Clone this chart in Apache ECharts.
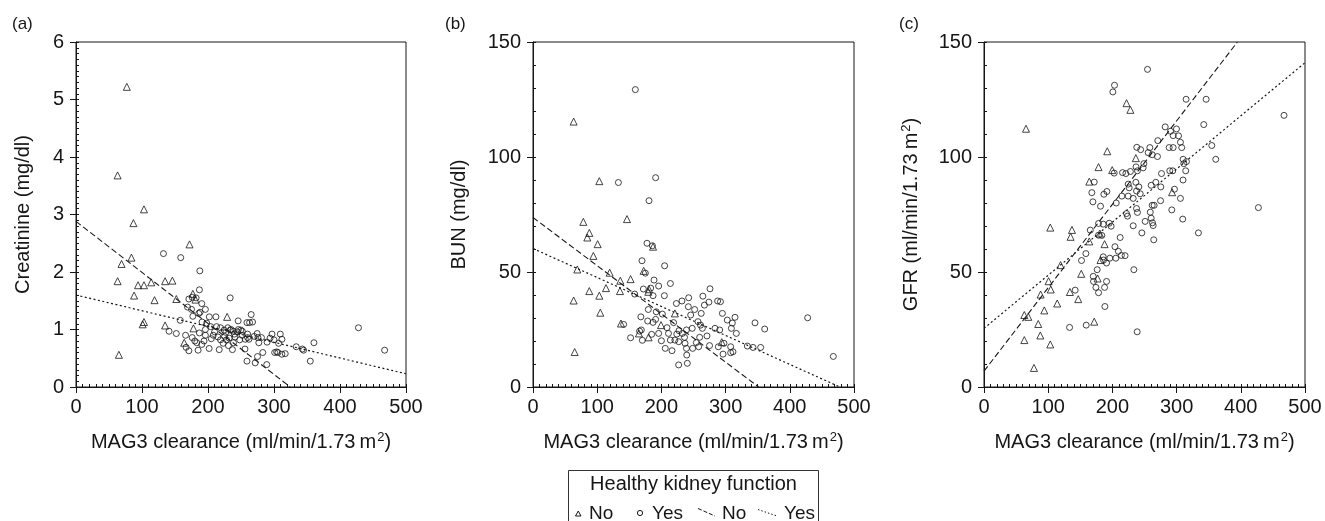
<!DOCTYPE html>
<html>
<head>
<meta charset="utf-8">
<script src="https://cdn.jsdelivr.net/npm/echarts@6/dist/echarts.min.js"></script>
<style>
html,body{margin:0;padding:0;background:#fff;}
#chart{width:1325px;height:521px;}
</style>
</head>
<body>
<div id="chart"></div>
<script>
// ---------- data ----------
const xTicks = [0, 100, 200, 300, 400, 500];
const panelLabels = ['(a)', '(b)', '(c)'];
const yNames = ['Creatinine (mg/dl)', 'BUN (mg/dl)', 'GFR (ml/min/1.73\u2009m{sup|2})'];
const xName = 'MAG3 clearance (ml/min/1.73\u2009m{sup|2})';
const yMaxs = [6, 150, 150];
const yIntervals = [1, 50, 50];
const yMinorIntervals = [0.1, 10, 10];

const creatNo = [[77,5.22],[63,3.68],[103,3.09],[87,2.85],[172,2.48],[84,2.25],[69,2.14],[63,1.84],[94,1.77],[103,1.77],[114,1.82],[135,1.84],[146,1.85],[88,1.59],[119,1.51],[152,1.53],[177,1.62],[181,1.52],[101,1.09],[103,1.13],[135,1.07],[65,0.56],[229,1.22],[164,0.77],[178,1.02]];
const creatYes = [[132.5,2.32],[158.7,2.25],[187.6,2.02],[187,1.69],[233.6,1.55],[171,1.53],[176,1.56],[182,1.55],[190.6,1.45],[196,1.35],[175,1.35],[169,1.39],[177,1.23],[186,1.28],[188,1.30],[158,1.16],[202,1.22],[212,1.22],[191,1.13],[198,1.11],[204,1.05],[265.4,1.26],[259,1.12],[263,1.12],[267.5,1.13],[245.7,1.15],[219,1.03],[213,1.05],[224.5,0.99],[230,1.03],[233.6,0.99],[238.6,0.97],[244.7,0.96],[249.7,0.99],[260,0.92],[274.5,0.93],[297,0.92],[309.5,0.92],[275.6,0.86],[294,0.85],[312,0.83],[428,1.03],[360.5,0.77],[467.6,0.64],[333.7,0.70],[344.8,0.64],[343,0.66],[355,0.45],[259,0.45],[271.5,0.42],[275,0.53],[283,0.60],[289,0.39],[301,0.60],[306,0.60],[312,0.57],[317,0.58],[304,0.61],[289.5,0.78],[307,0.76],[277,0.77],[262,0.83],[256.5,0.83],[256,0.66],[237,0.65],[201.7,0.67],[185,0.64],[171,0.63],[166.8,0.69],[166,0.90],[152,0.93],[141,0.97],[180,0.80],[183,0.77],[190.6,0.74],[194,0.80],[187,0.94],[208,0.90],[215,0.87],[219,0.82],[217,0.65],[223,0.76],[228,0.82],[238.6,0.77],[241,0.87],[251.8,0.90],[260,0.86],[227,0.95],[235,1.0],[240,0.92],[246,1.0],[252,0.97],[270,0.88],[300,0.82],[225,0.88],[232,0.85],[210,0.96],[205,0.84],[196,0.9],[176,0.86],[196,1.0],[231,0.72],[248,0.82],[281,0.86]];

const bunNo = [[63.3,115.4],[103.3,89.5],[78.4,71.8],[87.7,67],[84.6,65],[100.7,62.1],[94,57],[146.4,73],[187,61],[69,51.1],[119.4,49.7],[136,46.2],[152,46.9],[172.4,50.5],[87.7,41.7],[103.3,39.7],[113.7,43],[135.5,41.7],[63.3,37.6],[104.8,32.3],[137,27.6],[64.9,15.2],[179.6,41.4],[180.7,42.5],[221,32],[180,21.6],[199.4,26.9],[165,23.3],[294,19.5]];
const bunYes = [[159.4,129.3],[191,91],[133,88.9],[180.7,81],[177.6,62.5],[186,61.4],[169.8,54.9],[205,52.7],[175,49.5],[188.5,46.5],[195.7,43.9],[214,45],[171.9,42.6],[183.3,43],[187,39.7],[158.4,40.4],[204.6,39.7],[179.6,33.7],[192,32.7],[201.5,31.7],[168,30.5],[178.6,28.7],[187,28.1],[191,29.4],[223.3,36.3],[232,37.4],[242.5,38.8],[242,34.9],[251.8,33.7],[245.6,31.3],[262,32],[264.6,39.5],[275.7,42.7],[267,35.6],[274,36.9],[287.6,37.4],[292,37.1],[295,32],[302.6,29.1],[314.6,30.3],[310.5,27.8],[309,25.5],[316.7,23.3],[345.8,27.9],[360.9,25.2],[427.8,30.1],[467.8,13.3],[333.9,17.8],[342.7,17.2],[354.6,17.2],[307.9,17.5],[297.5,19],[307.9,14.9],[311.5,15.3],[296,14.3],[288.7,17.5],[283.5,25.5],[290.8,24.8],[271,22.2],[275,18],[259.6,21.6],[254.4,19.3],[258,17.5],[248.7,16.8],[263.8,25.5],[257,28.4],[261,26.9],[248,25.5],[239,24.8],[232.6,23.3],[227.4,24.5],[224,23],[221,20.4],[227,19.7],[236,21.6],[236.8,19],[239,16.8],[239.5,13.9],[226.9,9.6],[240.4,10.3],[216.5,15.8],[206,16.8],[214,20.4],[208.7,25.8],[219,28],[211,23.3],[195.7,23.3],[200,20.1],[184.8,22.9],[170.3,20.3],[152,21.4],[166,24.3],[168.7,24.8],[141.2,27.2]];

const gfrNo = [[65.4,112.3],[222,123.4],[228,120.5],[192,102.5],[236.5,99.5],[178.4,95.6],[199.7,94.3],[164,89.3],[293,84.7],[103.2,69.3],[137,68.3],[134.9,65.3],[164,63.3],[187.8,62.1],[180.5,66.7],[181.5,55.2],[119.3,53],[151.5,49.2],[100.6,46],[177,47.2],[104,42.4],[88.2,40.2],[133.8,41.3],[146.8,38.2],[114,36.3],[93.9,33.3],[62.8,31.3],[69,30.5],[84.5,27.4],[171.7,28.4],[62.8,20.4],[87.7,22.4],[103.2,18.5],[77.8,8.3]];
const gfrYes = [[254.7,138.1],[203.3,131.2],[200.7,128.3],[314.8,125.1],[346,125.1],[467.3,118.1],[342.3,114.1],[282.2,113.1],[299.8,112.2],[290.5,111.2],[294.6,109.3],[303,109.2],[270.7,107.1],[306,106.4],[308,104.1],[238,104.2],[244,103.2],[258.3,104.1],[288.4,104.1],[294.6,104.1],[255.7,101.9],[262,101],[270.2,100.2],[354.8,105],[361,99],[310.2,99],[315.3,98],[311.2,97.1],[249,97.1],[247.9,95.3],[236.8,95.7],[239,94],[228,93.7],[215.8,93.2],[221,92.8],[202.8,93],[276.5,92.8],[289.4,94],[294,94],[314.2,94],[310,90],[171.7,89.1],[236.5,89],[224.6,88.2],[226.1,86.6],[241.2,87],[237.6,85.2],[260.4,87.7],[275.4,87],[267.6,89],[296.7,86],[168,84.5],[186.7,83.8],[191.4,85],[214.7,83],[224.6,83],[232.4,82],[243.3,84],[306,82],[169.6,80.5],[206,80],[181.5,78.6],[262,79],[265,79],[275,81],[292.5,77],[222,75.4],[237.6,77.6],[239,75.9],[223.5,74.3],[259,76],[260.4,73.4],[263.5,70.2],[251,72],[262.5,71.4],[309.6,73],[178.4,71.1],[185.7,70.8],[195,71.2],[198,69.9],[232.4,70.1],[165.5,68.2],[178.4,66],[183.5,65.9],[245.9,67],[264.4,64],[334,67],[212.1,65],[204,61],[209.3,59],[214,57.2],[219.7,57.1],[205.3,56],[196,56],[185.7,56.6],[186.2,55.2],[158.7,58],[151.9,55],[190.9,53.9],[176.3,51],[233.4,51],[170.1,48.1],[170.6,45.9],[190.9,45.9],[174.3,43.3],[187.8,43.3],[178.4,41],[142,42.1],[188.3,35],[159.2,26.9],[133.3,25.9],[238.6,24],[427.4,78]];

// regression lines: endpoints [[x0,y0],[x1,y1]]
const creatLineNo = [[0,2.88],[324.6,0]];
const creatLineYes = [[0,1.6],[500,0.23]];
const bunLineNo = [[0,73.7],[351.5,0]];
const bunLineYes = [[0,60.2],[478,0]];
const gfrLineNo = [[0,6.9],[394.7,150]];
const gfrLineYes = [[0,25.5],[500,141]];

// ---------- layout / style ----------
const FONT = 'Liberation Sans';
const INK = '#161616';
const grids = [
  {left:76, top:42, width:330, height:345},
  {left:533, top:42, width:321, height:345},
  {left:984, top:42, width:321, height:345}
];
const yNameGaps = [42, 63, 62];
const panelLabelX = [12, 445, 899];
const nameStyle = {
  fontSize:20, fontFamily:FONT, color:INK, lineHeight:22,
  rich:{sup:{fontSize:13, lineHeight:13, fontFamily:FONT, color:INK, verticalAlign:'top', padding:[0,0,0,1]}}
};

const noSets = [creatNo, bunNo, gfrNo];
const yesSets = [creatYes, bunYes, gfrYes];
const noLines = [creatLineNo, bunLineNo, gfrLineNo];
const yesLines = [creatLineYes, bunLineYes, gfrLineYes];

const xAxes = [], yAxes = [], series = [], gridOpts = [];
for (let i = 0; i < 3; i++) {
  gridOpts.push(Object.assign({show:true, borderColor:INK, borderWidth:1, backgroundColor:'transparent', containLabel:false}, grids[i]));
  xAxes.push({
    gridIndex:i, type:'value', min:xTicks[0], max:xTicks[xTicks.length-1], interval:xTicks[1]-xTicks[0],
    position:'bottom',
    axisLine:{show:true, onZero:false, lineStyle:{color:INK, width:1}},
    axisTick:{show:true, inside:false, length:6, lineStyle:{color:INK, width:1}},
    axisLabel:{show:true, margin:10, fontSize:20, fontFamily:FONT, color:INK},
    splitLine:{show:false},
    name:xName, nameLocation:'middle', nameGap:44,
    nameTextStyle:nameStyle
  });
  xAxes.push({
    gridIndex:i, type:'value', min:0, max:500, interval:10, position:'bottom',
    axisLine:{show:false}, axisTick:{show:true, inside:true, length:3, lineStyle:{color:INK, width:1}},
    axisLabel:{show:false}, splitLine:{show:false}
  });
  yAxes.push({
    gridIndex:i, type:'value', min:0, max:yMaxs[i], interval:yIntervals[i], position:'left',
    axisLine:{show:true, onZero:false, lineStyle:{color:INK, width:1}},
    axisTick:{show:true, inside:false, length:6, lineStyle:{color:INK, width:1}},
    axisLabel:{show:true, margin:12, fontSize:20, fontFamily:FONT, color:INK},
    splitLine:{show:false},
    name:yNames[i], nameLocation:'middle', nameGap:yNameGaps[i],
    nameTextStyle:nameStyle
  });
  yAxes.push({
    gridIndex:i, type:'value', min:0, max:yMaxs[i], interval:yMinorIntervals[i], position:'left',
    axisLine:{show:false}, axisTick:{show:true, inside:true, length:3, lineStyle:{color:INK, width:1}},
    axisLabel:{show:false}, splitLine:{show:false}
  });
  series.push({
    type:'line', xAxisIndex:2*i, yAxisIndex:2*i, data:noLines[i], symbol:'none', silent:true, clip:true,
    lineStyle:{color:INK, width:1.1, type:[6,3]}, z:1
  });
  series.push({
    type:'line', xAxisIndex:2*i, yAxisIndex:2*i, data:yesLines[i], symbol:'none', silent:true, clip:true,
    lineStyle:{color:INK, width:1.2, type:[2,2.5]}, z:1
  });
  series.push({
    type:'scatter', xAxisIndex:2*i, yAxisIndex:2*i, data:noSets[i], symbol:'triangle', symbolSize:7, silent:true,
    itemStyle:{color:'rgba(0,0,0,0)', borderColor:INK, borderWidth:1}, z:2
  });
  series.push({
    type:'scatter', xAxisIndex:2*i, yAxisIndex:2*i, data:yesSets[i], symbol:'circle', symbolSize:6, silent:true,
    itemStyle:{color:'rgba(0,0,0,0)', borderColor:INK, borderWidth:1}, z:2
  });
}

const graphics = [];
for (let i = 0; i < 3; i++) {
  graphics.push({type:'text', left:panelLabelX[i], top:16, style:{text:panelLabels[i], font:'17px "Liberation Sans"', fill:INK}});
}
// legend box
const LF = '19px "Liberation Sans"';
graphics.push({type:'rect', shape:{x:568.5, y:470.5, width:250, height:60}, style:{fill:'none', stroke:'#333', lineWidth:1}});
graphics.push({type:'text', x:693.5, y:484.5, style:{text:'Healthy kidney function', font:'20px "Liberation Sans"', fill:INK, align:'center', verticalAlign:'middle'}});
graphics.push({type:'polygon', shape:{points:[[575.5,516],[581,516],[578.25,511]]}, style:{fill:'none', stroke:INK, lineWidth:1}});
graphics.push({type:'text', x:589, y:514, style:{text:'No', font:LF, fill:INK, align:'left', verticalAlign:'middle'}});
graphics.push({type:'circle', shape:{cx:640, cy:513, r:2.6}, style:{fill:'none', stroke:INK, lineWidth:1}});
graphics.push({type:'text', x:652, y:514, style:{text:'Yes', font:LF, fill:INK, align:'left', verticalAlign:'middle'}});
graphics.push({type:'line', shape:{x1:698, y1:508.5, x2:715, y2:516}, style:{stroke:INK, lineWidth:1, lineDash:[4,2]}});
graphics.push({type:'text', x:722, y:514, style:{text:'No', font:LF, fill:INK, align:'left', verticalAlign:'middle'}});
graphics.push({type:'line', shape:{x1:758, y1:509.5, x2:777, y2:516}, style:{stroke:INK, lineWidth:1, lineDash:[1.5,2]}});
graphics.push({type:'text', x:784, y:514, style:{text:'Yes', font:LF, fill:INK, align:'left', verticalAlign:'middle'}});

const chart = echarts.init(document.getElementById('chart'), null, {renderer:'canvas'});
chart.setOption({
  animation:false,
  backgroundColor:'#fff',
  textStyle:{fontFamily:FONT},
  grid:gridOpts,
  xAxis:xAxes,
  yAxis:yAxes,
  series:series,
  graphic:graphics
});
</script>
</body>
</html>
